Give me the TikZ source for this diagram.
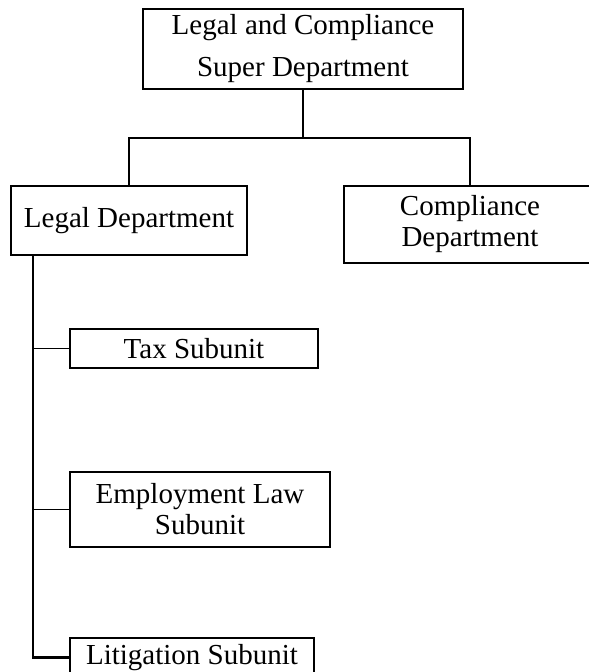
\documentclass[tikz,border=0pt]{standalone}
\usepackage{fontspec}
\setmainfont{Liberation Serif}
\usepackage{tikz}
\usetikzlibrary{calc}

\begin{document}
\begin{tikzpicture}[x=1pt,y=-1pt,
        unitbox/.style={draw,line width=1.7pt,inner sep=0pt,align=center,
            font=\fontsize{29}{31}\selectfont},
        link/.style={line width=1.7pt}]
                \useasboundingbox (0,0) rectangle (589,672);
                \clip (0,0) rectangle (589,672);

                \node[unitbox,minimum width=320,minimum height=80] (super) at (303,49) {Legal and Compliance\\[11pt]Super Department};
                \node[unitbox,minimum width=236,minimum height=69] (legal) at (129,220.5) {Legal Department};
                \node[unitbox,minimum width=252,minimum height=77] (compl) at (470,224.5) {Compliance\\Department};

                \node[unitbox,minimum width=248,minimum height=39] (tax) at (194,348.5) {Tax Subunit};
                \node[unitbox,minimum width=260,minimum height=75] (employ) at (200,509.5) {Employment Law\\Subunit};
                \node[unitbox,minimum width=244,minimum height=39] (litig) at (192,657.5) {Litigation Subunit};

                \coordinate (split) at ($(super.south)+(0,48)$);
                \coordinate (trunk) at ($(legal.south west)+(23,0)$);

                \draw[link] (super.south) -- (split);
                \draw[link] (split) -| (legal.north);
                \draw[link] (split) -| (compl.north);

                \draw[link,line width=2.1pt] (trunk) |- (litig.west);
                \draw[link] (trunk) |- (tax.west);
                \draw[link] (trunk) |- (employ.west);
            \end{tikzpicture}
\end{document}
